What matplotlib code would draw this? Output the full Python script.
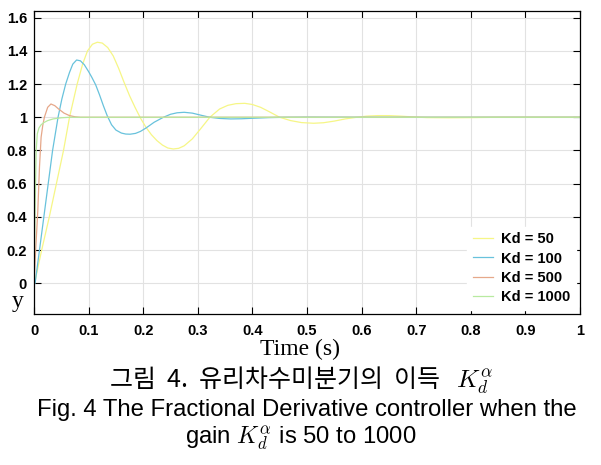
import numpy as np
import matplotlib
matplotlib.use('Agg')
from matplotlib import pyplot as plt

# step responses (time in s, output y)
t_50 = [0, 0.001, 0.014, 0.028, 0.041, 0.054, 0.065, 0.079, 0.089, 0.098, 0.107, 0.116,
        0.125, 0.135, 0.145, 0.155, 0.165, 0.175, 0.185, 0.195, 0.205, 0.215, 0.225,
        0.235, 0.245, 0.255, 0.265, 0.275, 0.29, 0.305, 0.322, 0.34, 0.355, 0.37, 0.386,
        0.4, 0.415, 0.43, 0.45, 0.47, 0.49, 0.512, 0.53, 0.55, 0.57, 0.591, 0.61, 0.63,
        0.65, 0.67, 0.69, 0.72, 0.76, 0.8, 0.85, 0.9, 1.0]
y_50 = [0, 0, 0.2, 0.4, 0.6, 0.8, 1.0, 1.2, 1.32, 1.4, 1.44, 1.452,
        1.447, 1.42, 1.37, 1.295, 1.21, 1.13, 1.06, 0.995, 0.94, 0.895, 0.86,
        0.833, 0.815, 0.809, 0.813, 0.828, 0.87, 0.93, 1.0, 1.05, 1.072, 1.082, 1.084,
        1.077, 1.06, 1.035, 1.0, 0.98, 0.968, 0.964, 0.967, 0.977, 0.99, 1.0, 1.007, 1.01,
        1.01, 1.007, 1.003, 0.998, 0.997, 0.998, 1.0, 1.0, 1.0]

t_100 = [0, 0.002, 0.01, 0.018, 0.026, 0.034, 0.044, 0.051, 0.058, 0.065, 0.071, 0.078,
         0.085, 0.092, 0.1, 0.106, 0.113, 0.12, 0.127, 0.134, 0.142, 0.15, 0.16, 0.168,
         0.176, 0.186, 0.195, 0.205, 0.22, 0.237, 0.25, 0.262, 0.275, 0.29, 0.305, 0.322,
         0.34, 0.36, 0.38, 0.4, 0.43, 0.46, 0.5, 0.6, 1.0]
y_100 = [0, 0, 0.2, 0.4, 0.6, 0.8, 1.0, 1.11, 1.2, 1.27, 1.32, 1.345,
         1.34, 1.317, 1.275, 1.24, 1.195, 1.135, 1.07, 1.01, 0.955, 0.923, 0.905, 0.899,
         0.898, 0.903, 0.915, 0.935, 0.97, 1.0, 1.018, 1.027, 1.03, 1.025, 1.013, 1.0,
         0.993, 0.99, 0.991, 0.994, 0.998, 1.0, 1.001, 1.0, 1.0]

t_500 = [0, 0.003, 0.007, 0.01, 0.013, 0.016, 0.019, 0.025, 0.031, 0.038, 0.045, 0.055,
         0.065, 0.075, 0.085, 1.0]
y_500 = [0, 0.2, 0.44, 0.7, 0.88, 0.95, 1.0, 1.06, 1.08, 1.07, 1.05, 1.025,
         1.01, 1.003, 1.0, 1.0]

t_1000 = [0, 0.002, 0.004, 0.006, 0.009, 0.013, 0.018, 0.025, 0.035, 0.05, 0.065, 1.0]
y_1000 = [0, 0.45, 0.8, 0.9, 0.935, 0.955, 0.968, 0.98, 0.99, 0.997, 1.0, 1.0]

labels = ['Kd = 50', 'Kd = 100', 'Kd = 500', 'Kd = 1000']
colors = ['#f6f686', '#68c2dc', '#e6a88a', '#b8eaa0']

x_ticks = np.arange(0, 1.01, 0.1)
y_ticks = np.arange(0, 1.61, 0.2)

plt.rcParams['mathtext.fontset'] = 'cm'

fig = plt.figure(figsize=(6.01, 4.65), dpi=100)
ax = fig.add_axes([0.0566, 0.3247, 0.9084, 0.6516])

for t, y, lab, c in zip([t_50, t_100, t_500, t_1000], [y_50, y_100, y_500, y_1000], labels, colors):
    ax.plot(t, y, color=c, lw=0.9, label=lab)

ax.set_xlim(0, 1)
ax.set_ylim(-0.185, 1.64)
ax.set_xticks(x_ticks)
ax.set_yticks(y_ticks)
ax.set_xticklabels(['%g' % round(v, 1) for v in x_ticks])
ax.set_yticklabels(['%g' % round(v, 1) for v in y_ticks])
ax.grid(True, color='#e2e2e2', lw=0.8)
ax.tick_params(direction='in', top=True, right=True, length=5, width=0.8, labelsize=10.5)
for lab in ax.get_xticklabels() + ax.get_yticklabels():
    lab.set_fontweight('bold')
    lab.set_family('Liberation Sans')
ax.tick_params(axis='x', pad=7)
ax.tick_params(axis='y', pad=5)
for s in ax.spines.values():
    s.set_linewidth(0.9)

leg = ax.legend(loc='lower right', frameon=True, fancybox=False, edgecolor='white',
                handlelength=1.4, handletextpad=0.5, labelspacing=0.35, borderaxespad=0.3,
                prop={'family': 'Liberation Sans', 'weight': 'bold', 'size': 10.5})
leg.get_frame().set_alpha(1.0)

fig.text(0.5, 0.248, 'Time (s)', ha='center', va='center', family='Liberation Serif', fontsize=17)
fig.text(0.03, 0.352, 'y', ha='center', va='center', family='Liberation Serif', fontsize=17)

fig.text(0.5, 0.182, '그림  4.  유리차수미분기의  이득   $K_d^{\\alpha}$', ha='center', va='center',
         family=['Noto Sans CJK KR', 'DejaVu Sans'], fontsize=18)
fig.text(0.51, 0.118, 'Fig. 4 The Fractional Derivative controller when the', ha='center',
         va='center', family='Liberation Sans', fontsize=17.2)
fig.text(0.5, 0.057, 'gain $K_d^{\\alpha}$ is 50 to 1000', ha='center', va='center',
         family='Liberation Sans', fontsize=17.2)

fig.savefig('out.png', dpi=100)
